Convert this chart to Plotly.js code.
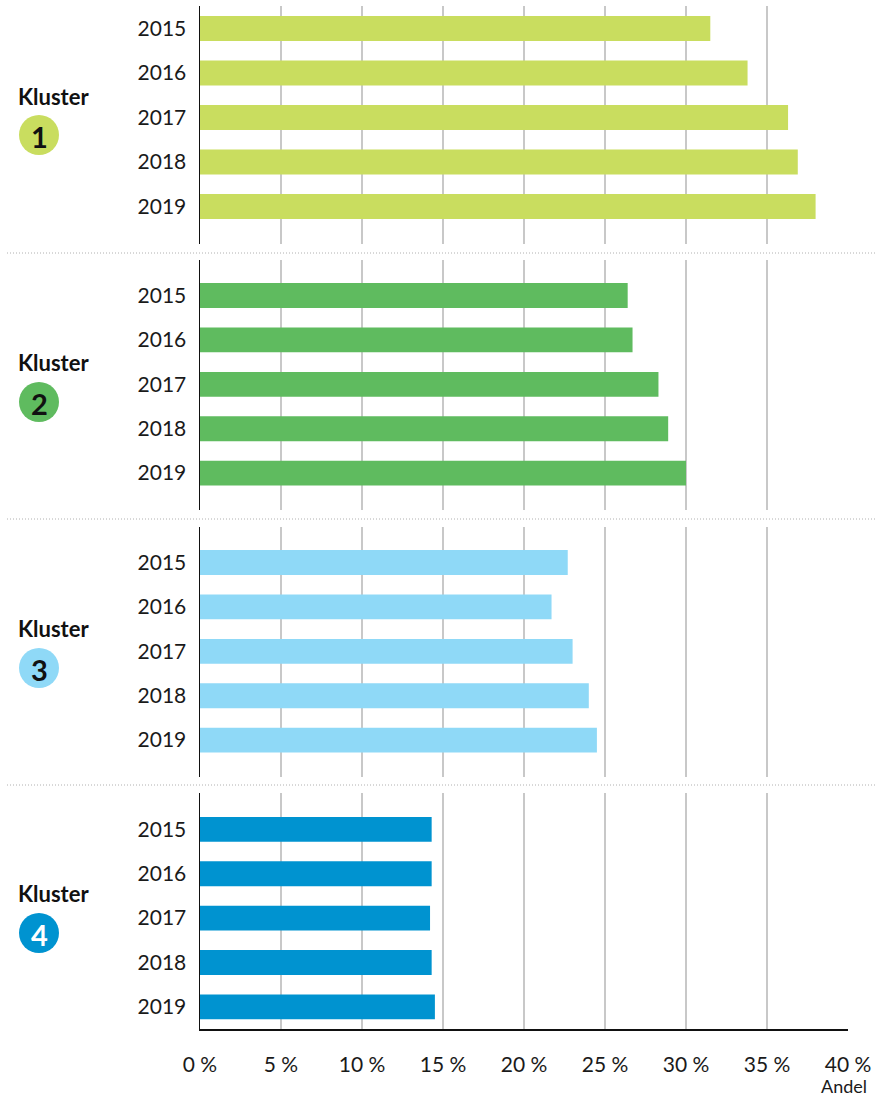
<!DOCTYPE html>
<html>
<head>
<meta charset="utf-8">
<script src="https://cdn.plot.ly/plotly-3.0.1.min.js"></script>
<style>html,body{margin:0;padding:0;background:#fff;}#chart{width:877px;height:1099px;}</style>
</head>
<body>
<div id="chart"></div>
<script>
// ---- data ----
const years = ['2015', '2016', '2017', '2018', '2019'];
const kluster1 = [31.5, 33.8, 36.3, 36.9, 38.0];
const kluster2 = [26.4, 26.7, 28.3, 28.9, 30.0];
const kluster3 = [22.7, 21.7, 23.0, 24.0, 24.5];
const kluster4 = [14.3, 14.3, 14.2, 14.3, 14.5];
const clusterNames = ['1', '2', '3', '4'];
const clusterLabel = 'Kluster';
const xTitle = 'Andel';

// ---- style / layout ----
const W = 877, H = 1099;
const mL = 200, mR = 29, mT = 6, mB = 70;
const plotW = W - mL - mR, plotH = H - mT - mB;
const colors = ['#c9dd5f', '#5fbb5f', '#8fd9f7', '#0093d0'];
const numColors = ['#111', '#111', '#111', '#fff'];
const panels = [
  {top: 6,   bot: 244,  range: [4.843, -0.506]},
  {top: 260, bot: 510,  range: [4.83, -0.80]},
  {top: 527, bot: 777,  range: [4.83, -0.80]},
  {top: 793, bot: 1029, range: [4.50, -0.82]}
];
const labelPos = [
  {ky: 96, cy: 135},
  {ky: 362, cy: 402},
  {ky: 628, cy: 668},
  {ky: 893, cy: 933}
];
const seps = [253, 519, 785];

const py = y => (H - mB - y) / plotH;
const px = x => (x - mL) / plotW;

const series = [kluster1, kluster2, kluster3, kluster4];
const data = series.map((vals, i) => ({
  type: 'bar',
  orientation: 'h',
  x: vals,
  y: years,
  xaxis: i === 0 ? 'x' : 'x' + (i + 1),
  yaxis: i === 0 ? 'y' : 'y' + (i + 1),
  marker: {color: colors[i]},
  width: 0.56,
  hoverinfo: 'x+y',
  showlegend: false
}));

const font = {family: 'Lato, "Open Sans", sans-serif', size: 21, color: '#1a1a1a'};
const layout = {
  width: W, height: H,
  margin: {l: mL, r: mR, t: mT, b: mB},
  paper_bgcolor: '#fff', plot_bgcolor: '#fff',
  font: font,
  showlegend: false,
  shapes: [], annotations: []
};

panels.forEach((p, i) => {
  const xa = i === 0 ? 'xaxis' : 'xaxis' + (i + 1);
  const ya = i === 0 ? 'yaxis' : 'yaxis' + (i + 1);
  const yid = i === 0 ? 'y' : 'y' + (i + 1);
  const last = i === panels.length - 1;
  layout[xa] = {
    anchor: yid,
    domain: [0, 1],
    range: [0, 40],
    dtick: 5, tick0: 0,
    showgrid: true, gridcolor: '#c8c8c8', gridwidth: 1.5,
    zeroline: false,
    showline: last, linecolor: '#111', linewidth: 1.5,
    showticklabels: last,
    ticksuffix: ' %',
    ticks: '',
    ticklabelstandoff: 16,
    tickfont: font,
    fixedrange: true
  };
  if (i > 0) layout[xa].matches = 'x';
  layout[ya] = {
    anchor: i === 0 ? 'x' : 'x' + (i + 1),
    domain: [py(p.bot), py(p.top)],
    type: 'category',
    range: p.range,
    showgrid: false, zeroline: false,
    showline: true, linecolor: '#111', linewidth: 1.5,
    ticks: '',
    ticklabelstandoff: 8,
    tickfont: font,
    fixedrange: true
  };

  layout.annotations.push({
    xref: 'paper', yref: 'paper',
    x: px(16), y: py(labelPos[i].ky),
    xanchor: 'left', yanchor: 'middle',
    text: '<b>' + clusterLabel + '</b>',
    showarrow: false,
    font: {family: 'Lato, sans-serif', size: 22, color: '#111'}
  });
  const r = 20, cx = 39, cy = labelPos[i].cy;
  layout.shapes.push({
    type: 'circle', xref: 'paper', yref: 'paper',
    x0: px(cx - r), x1: px(cx + r), y0: py(cy + r), y1: py(cy - r),
    fillcolor: colors[i], line: {width: 0}
  });
  layout.annotations.push({
    xref: 'paper', yref: 'paper',
    x: px(cx), y: py(cy + 1),
    xanchor: 'center', yanchor: 'middle',
    text: '<b>' + clusterNames[i] + '</b>',
    showarrow: false,
    font: {family: 'Lato, sans-serif', size: 29, color: numColors[i]}
  });
});

seps.forEach(s => {
  layout.shapes.push({
    type: 'line', xref: 'paper', yref: 'paper',
    x0: px(7), x1: px(877), y0: py(s), y1: py(s),
    line: {color: '#b0b0b0', width: 1, dash: '1px,2px'}
  });
});

layout.annotations.push({
  xref: 'paper', yref: 'paper',
  x: px(869), y: py(1086),
  xanchor: 'right', yanchor: 'middle',
  text: xTitle, showarrow: false,
  font: {family: 'Lato, sans-serif', size: 18, color: '#1a1a1a'}
});

Plotly.newPlot('chart', data, layout, {displayModeBar: false, staticPlot: true});
</script>
</body>
</html>
